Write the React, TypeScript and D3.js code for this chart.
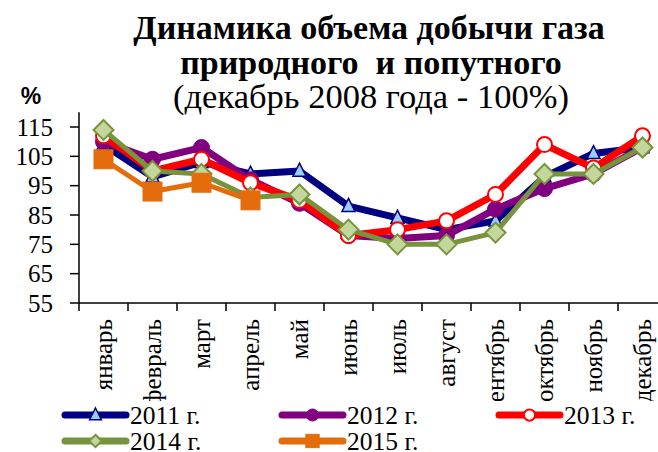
import React from "react";
import * as d3 from "d3";

const months = ["январь","февраль","март","апрель","май","июнь","июль","август","сентябрь","октябрь","ноябрь","декабрь"];
const yTicks = [55, 65, 75, 85, 95, 105, 115];

const s2011 = [109, 98, 103, 99, 100, 88, 84, 80, 83, 98, 106, 108];
const s2012 = [110, 104, 108, 97, 89, 78, 77, 78, 87, 94, 99, 108];
const s2013 = [112, 100, 104, 96, 90, 78, 80, 83, 92, 109, 101, 112];
const s2014 = [114, 100, 99, 91, 92, 80, 75, 75, 79, 99, 99, 108];
const s2015 = [104, 93, 96, 90];

const titleLines = ["Динамика объема добычи газа", "природного  и попутного", "(декабрь 2008 года - 100%)"];

type Marker = "triangle" | "circle" | "ocircle" | "diamond" | "square";
const seriesDefs: { name: string; values: number[]; color: string; fill: string; stroke: string; width: number; marker: Marker; legendScale: number }[] = [
  { name: "2011 г.", values: s2011, color: "#000080", fill: "#99CCFF", stroke: "#000080", width: 7, marker: "triangle", legendScale: 0.9 },
  { name: "2012 г.", values: s2012, color: "#800080", fill: "#800080", stroke: "#800080", width: 7, marker: "circle", legendScale: 0.75 },
  { name: "2013 г.", values: s2013, color: "#FF0000", fill: "#FFFFFF", stroke: "#FF0000", width: 7, marker: "ocircle", legendScale: 0.75 },
  { name: "2014 г.", values: s2014, color: "#77933C", fill: "#C3D69B", stroke: "#77933C", width: 5, marker: "diamond", legendScale: 0.62 },
  { name: "2015 г.", values: s2015, color: "#E46C0A", fill: "#E46C0A", stroke: "#E46C0A", width: 5, marker: "square", legendScale: 0.7 },
];

const SERIF = "'Liberation Serif', 'Times New Roman', Tinos, serif";
const SANS = "'Liberation Sans', Arial, sans-serif";

function MarkerShape({ type, x, y, fill, stroke, scale = 1 }: { type: Marker; x: number; y: number; fill: string; stroke: string; scale?: number }) {
  const s = scale;
  if (type === "triangle") {
    const h = 13 * s, w = 13 * s;
    const pts = `${x},${y - h * 0.6} ${x + w / 2},${y + h * 0.4} ${x - w / 2},${y + h * 0.4}`;
    return <polygon points={pts} fill={fill} stroke={stroke} strokeWidth={1.5} strokeLinejoin="miter" />;
  }
  if (type === "circle") return <circle cx={x} cy={y} r={8 * s} fill={fill} stroke={stroke} strokeWidth={1} />;
  if (type === "ocircle") return <circle cx={x} cy={y} r={7.5 * s} fill={fill} stroke={stroke} strokeWidth={2} />;
  if (type === "diamond") {
    const r = 10 * s;
    const pts = `${x},${y - r} ${x + r},${y} ${x},${y + r} ${x - r},${y}`;
    return <polygon points={pts} fill={fill} stroke={stroke} strokeWidth={2} />;
  }
  const a = 9.5 * s;
  return <rect x={x - a} y={y - a} width={2 * a} height={2 * a} fill={fill} stroke={stroke} strokeWidth={1} />;
}

export default function App() {
  const W = 658, H = 452;
  const x = d3.scaleBand<string>().domain(months).range([79, 667]).padding(0);
  const y = d3.scaleLinear().domain([55, 120]).range([303, 303 - 65 * (176 / 60)]);
  const cx = (m: string) => (x(m) as number) + x.bandwidth() / 2;
  const line = d3.line<number>().x((_, i) => cx(months[i])).y((d) => y(d));

  const legendPos = [
    { x1: 65, x2: 126, y: 415 },
    { x1: 282, x2: 343, y: 415 },
    { x1: 499, x2: 560, y: 415 },
    { x1: 65, x2: 126, y: 441 },
    { x1: 282, x2: 343, y: 441 },
  ];

  const T = (props: any) => <text {...props} style={{ fontFamily: SERIF, ...(props.style || {}) }} />;

  return (
    <svg width={W} height={H} style={{ position: "absolute", left: 0, top: 0, fontFamily: SERIF }}>
      <defs>
        <clipPath id="xlabclip">
          <rect x={0} y={305} width={W} height={96} />
        </clipPath>
      </defs>
      <rect width={W} height={H} fill="#fff" />
      <T x={369} y={39} textAnchor="middle" fontWeight="bold" fontSize={34}>{titleLines[0]}</T>
      <T x={371} y={74} textAnchor="middle" fontWeight="bold" fontSize={34} style={{ whiteSpace: "pre" }}>{titleLines[1]}</T>
      <T x={371} y={108} textAnchor="middle" fontSize={34.5}>{titleLines[2]}</T>
      <text x={31} y={104} textAnchor="middle" fontWeight="bold" fontSize={23} style={{ fontFamily: SANS }}>%</text>

      <line x1={79} x2={79} y1={y(120)} y2={303} stroke="#000" strokeWidth={1.5} />
      <line x1={79} x2={667} y1={303} y2={303} stroke="#000" strokeWidth={1.5} />
      {yTicks.map((t) => (
        <g key={t}>
          <line x1={70} x2={79} y1={y(t)} y2={y(t)} stroke="#000" strokeWidth={1.5} />
          <T x={53} y={y(t)} dy="0.35em" textAnchor="end" fontSize={25}>{t}</T>
        </g>
      ))}
      {months.map((m) => (
        <line key={m} x1={(x(m) as number)} x2={(x(m) as number)} y1={303} y2={311} stroke="#000" strokeWidth={1.5} />
      ))}
      <g clipPath="url(#xlabclip)">
        {months.map((m) => (
          <T key={m} transform={`translate(${cx(m)},319) rotate(-90)`} dy="0.35em" textAnchor="end" fontSize={25}>{m}</T>
        ))}
      </g>

      {seriesDefs.map((s) => (
        <g key={s.name}>
          <path d={line(s.values) || ""} fill="none" stroke={s.color} strokeWidth={s.width} strokeLinejoin="round" strokeLinecap="round" />
          {s.values.map((v, i) => (
            <MarkerShape key={i} type={s.marker} x={cx(months[i])} y={y(v)} fill={s.fill} stroke={s.stroke} />
          ))}
        </g>
      ))}

      {seriesDefs.map((s, i) => {
        const p = legendPos[i];
        return (
          <g key={s.name}>
            <line x1={p.x1} x2={p.x2} y1={p.y} y2={p.y} stroke={s.color} strokeWidth={7} strokeLinecap="round" />
            <MarkerShape type={s.marker} x={(p.x1 + p.x2) / 2} y={p.y} fill={s.fill} stroke={s.stroke} scale={s.legendScale} />
            <T x={p.x2 + 4} y={p.y} dy="0.35em" fontSize={25.5}>{s.name}</T>
          </g>
        );
      })}
    </svg>
  );
}
